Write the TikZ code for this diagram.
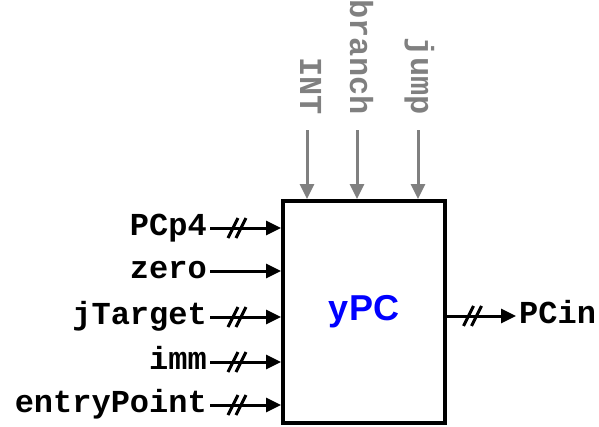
\documentclass[tikz,border=0pt]{standalone}
\usepackage{fontspec}
\setmainfont{Liberation Sans}
\setsansfont{Liberation Sans}
\setmonofont{Liberation Mono}
\usetikzlibrary{positioning, arrows.meta, calc}

\begin{document}
\begin{tikzpicture}[x=1pt, y=-1pt,
            block/.style={draw=black, line width=4pt, minimum width=162pt, minimum height=222pt, inner sep=0pt, font=\fontsize{36}{40}\selectfont\sffamily\bfseries, text=blue},
            sig/.style={font=\fontsize{32}{36}\selectfont\ttfamily\bfseries, inner xsep=3pt, inner ysep=0pt, text height=14pt, text depth=0pt},
            ctrl/.style={sig, text=gray, rotate=-90, anchor=east},
            edge/.style={line width=3pt, -{Triangle[length=15pt, width=14pt]}},
            ctrledge/.style={line width=3pt, gray, -{Triangle[length=15pt, width=14pt]}},
            bus/.pic={\draw[-, black, line width=3pt] (-9,10) -- (1,-10) (-1,10) -- (9,-10);}
        ]
        \useasboundingbox (0,0) rectangle (599,426);

        % Block
        \node[block] (ypc) at (364,312) {yPC};

        % Eingaenge
        \node[sig, anchor=east] (pcp4) at (210,228) {PCp4};
        \node[sig, anchor=east] (zero) at (210,271) {zero};
        \node[sig, anchor=east] (jtarget) at (210,317) {jTarget};
        \node[sig, anchor=east] (imm) at (210,362) {imm};
        \node[sig, anchor=east] (entry) at (210,405) {entryPoint};

        \draw[edge] (pcp4.east) -- (pcp4.east -| ypc.west) pic[pos=.38]{bus};
        \draw[edge] (zero.east) -- (zero.east -| ypc.west);
        \draw[edge] (jtarget.east) -- (jtarget.east -| ypc.west) pic[pos=.38]{bus};
        \draw[edge] (imm.east) -- (imm.east -| ypc.west) pic[pos=.38]{bus};
        \draw[edge] (entry.east) -- (entry.east -| ypc.west) pic[pos=.38]{bus};

        % Steuersignale
        \node[ctrl] (int) at (307,118) {INT};
        \node[ctrl] (branch) at (357,118) {branch};
        \node[ctrl] (jump) at (418,118) {jump};

        \draw[ctrledge] ([yshift=-12pt]int.east) -- (int.east |- ypc.north);
        \draw[ctrledge] ([yshift=-12pt]branch.east) -- (branch.east |- ypc.north);
        \draw[ctrledge] ([yshift=-12pt]jump.east) -- (jump.east |- ypc.north);

        % Ausgang
        \node[sig, anchor=west] (pcin) at (516,316) {PCin};
        \draw[edge] (ypc.east |- pcin.west) -- (pcin.west) pic[pos=.37]{bus};

    \end{tikzpicture}
\end{document}
